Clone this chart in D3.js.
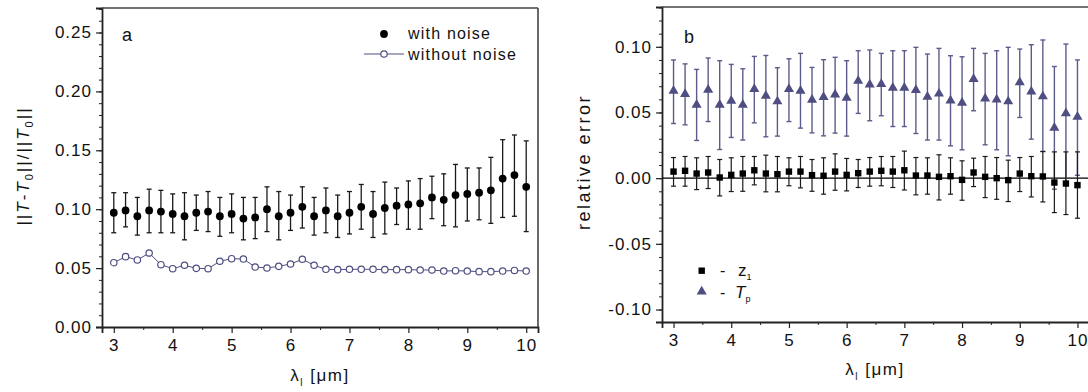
<!DOCTYPE html>
<html>
<head>
<meta charset="utf-8">
<script src="https://cdn.jsdelivr.net/npm/d3@7"></script>
<style>
  body { margin: 0; background: #fff; }
  svg text { font-family: "Liberation Sans", Arial, sans-serif; fill: #111; }
  .tick text { font-size: 17px; letter-spacing: 1px; }
</style>
</head>
<body>
<svg id="chart" width="1088" height="392"></svg>
<script>
/* wavelengths (µm) */
const lambda = [3.0, 3.2, 3.4, 3.6, 3.8, 4.0, 4.2, 4.4, 4.6, 4.8, 5.0, 5.2, 5.4, 5.6, 5.8, 6.0, 6.2, 6.4,
  6.6, 6.8, 7.0, 7.2, 7.4, 7.6, 7.8, 8.0, 8.2, 8.4, 8.6, 8.8, 9.0, 9.2, 9.4, 9.6, 9.8, 10.0];

/* panel a */
const withNoise = [0.097, 0.099, 0.094, 0.099, 0.098, 0.096, 0.094, 0.097, 0.098, 0.094, 0.096, 0.092, 0.093, 0.100, 0.094, 0.097, 0.102, 0.094,
  0.099, 0.094, 0.097, 0.102, 0.096, 0.101, 0.103, 0.104, 0.105, 0.110, 0.108, 0.112, 0.113, 0.114, 0.116, 0.126, 0.129, 0.119];
const withNoiseHi = [0.114, 0.114, 0.110, 0.117, 0.116, 0.113, 0.114, 0.112, 0.115, 0.110, 0.113, 0.110, 0.110, 0.119, 0.115, 0.112, 0.119, 0.110,
  0.118, 0.112, 0.115, 0.121, 0.115, 0.123, 0.118, 0.124, 0.126, 0.128, 0.130, 0.138, 0.135, 0.135, 0.144, 0.159, 0.163, 0.158];
const withNoiseLo = [0.080, 0.085, 0.078, 0.080, 0.080, 0.080, 0.074, 0.082, 0.081, 0.077, 0.080, 0.074, 0.075, 0.081, 0.074, 0.082, 0.084, 0.078,
  0.080, 0.076, 0.079, 0.083, 0.076, 0.079, 0.087, 0.083, 0.083, 0.092, 0.086, 0.085, 0.090, 0.091, 0.088, 0.093, 0.094, 0.081];
const withoutNoise = [0.0546, 0.0597, 0.0569, 0.0628, 0.0529, 0.0495, 0.0524, 0.0498, 0.0495, 0.0558, 0.0580, 0.0577, 0.0509, 0.0501, 0.0515, 0.0535, 0.0575, 0.0524,
  0.0490, 0.0487, 0.0490, 0.0490, 0.0490, 0.0487, 0.0487, 0.0487, 0.0484, 0.0484, 0.0475, 0.0478, 0.0475, 0.0470, 0.0470, 0.0475, 0.0480, 0.0475];

/* panel b */
const tp = [0.0665, 0.0640, 0.0559, 0.0673, 0.0559, 0.0589, 0.0559, 0.0678, 0.0627, 0.0584, 0.0678, 0.0665, 0.0597, 0.0617, 0.0637, 0.0612, 0.0740, 0.0712,
  0.0716, 0.0688, 0.0688, 0.0671, 0.0620, 0.0643, 0.0591, 0.0574, 0.0755, 0.0605, 0.0598, 0.0584, 0.0729, 0.0659, 0.0622, 0.0384, 0.0494, 0.0467];
const tpHi = [0.0900, 0.0870, 0.0828, 0.0915, 0.0894, 0.0866, 0.0833, 0.0927, 0.0934, 0.0841, 0.0909, 0.0950, 0.0843, 0.0902, 0.0920, 0.0894, 0.0970, 0.0976,
  0.0950, 0.0970, 0.0970, 0.0996, 0.0945, 0.0988, 0.0932, 0.0924, 0.0988, 0.0950, 0.0970, 0.0996, 0.0983, 0.1016, 0.1052, 0.0850, 0.1021, 0.0900];
const tpLo = [0.0416, 0.0406, 0.0287, 0.0431, 0.0218, 0.0310, 0.0290, 0.0421, 0.0315, 0.0320, 0.0431, 0.0381, 0.0345, 0.0322, 0.0343, 0.0320, 0.0493, 0.0437,
  0.0475, 0.0393, 0.0393, 0.0340, 0.0290, 0.0290, 0.0246, 0.0216, 0.0513, 0.0254, 0.0216, 0.0170, 0.0462, 0.0297, 0.0203, -0.0084, -0.0030, 0.0022];
const z1 = [0.0050, 0.0056, 0.0035, 0.0043, 0.0005, 0.0025, 0.0035, 0.0060, 0.0035, 0.0030, 0.0050, 0.0050, 0.0023, 0.0018, 0.0050, 0.0025, 0.0038, 0.0050,
  0.0056, 0.0050, 0.0060, 0.0020, 0.0020, 0.0010, 0.0015, -0.0013, 0.0043, 0.0010, 0.0000, -0.0015, 0.0035, 0.0015, 0.0013, -0.0033, -0.0041, -0.0053];
const z1Hi = [0.0157, 0.0165, 0.0155, 0.0165, 0.0142, 0.0155, 0.0165, 0.0165, 0.0175, 0.0165, 0.0155, 0.0165, 0.0142, 0.0155, 0.0185, 0.0150, 0.0142, 0.0157,
  0.0165, 0.0165, 0.0206, 0.0157, 0.0155, 0.0178, 0.0155, 0.0132, 0.0152, 0.0165, 0.0157, 0.0137, 0.0157, 0.0165, 0.0203, 0.0200, 0.0200, 0.0200];
const z1Lo = [-0.0061, -0.0061, -0.0087, -0.0079, -0.0135, -0.0102, -0.0100, -0.0051, -0.0104, -0.0104, -0.0058, -0.0074, -0.0100, -0.0122, -0.0092, -0.0097, -0.0071, -0.0061,
  -0.0058, -0.0071, -0.0090, -0.0127, -0.0122, -0.0166, -0.0122, -0.0168, -0.0064, -0.0148, -0.0161, -0.0178, -0.0102, -0.0143, -0.0181, -0.0262, -0.0277, -0.0305];

/* tick labels */
const xTicks = [3, 4, 5, 6, 7, 8, 9, 10];
const yTicksA = [0.00, 0.05, 0.10, 0.15, 0.20, 0.25];
const yTicksB = [-0.10, -0.05, 0.00, 0.05, 0.10];

const svg = d3.select("#chart");
const purple = "#4e4e82";

/* plain hyphen instead of the unicode minus */
const fmt2 = v => (v < 0 ? "-" : "") + Math.abs(v).toFixed(2);

/* draws frame, ticks and minor ticks for one panel */
function makeAxes(g, x, y, w, h, yTicks, frame) {
  const xMinor = d3.range(3, 10.01, 0.5).filter(v => !xTicks.includes(v));
  const yMinor = d3.range(Math.ceil(y.domain()[0] * 100) / 100, y.domain()[1] + 1e-9, 0.01);

  g.append("g").attr("transform", `translate(0,${h})`)
    .call(d3.axisBottom(x).tickValues(xMinor).tickSize(3).tickFormat(""))
    .call(a => a.select(".domain").remove());
  g.append("g")
    .call(d3.axisLeft(y).tickValues(yMinor).tickSize(3).tickFormat(""))
    .call(a => a.select(".domain").remove());

  const xa = g.append("g").attr("transform", `translate(0,${h})`)
    .call(d3.axisBottom(x).tickValues(xTicks).tickSize(6).tickPadding(6).tickFormat(d3.format("d")));
  const ya = g.append("g")
    .call(d3.axisLeft(y).tickValues(yTicks).tickSize(6).tickPadding(4).tickFormat(fmt2));
  [xa, ya].forEach(a => {
    a.select(".domain").attr("stroke", "#222").attr("stroke-width", 1.8);
    a.selectAll(".tick line").attr("stroke-width", 1.2);
  });
  g.selectAll(".tick line").attr("stroke", "#222");

  g.append("line").attr("x1", 0).attr("x2", w).attr("y1", 0).attr("y2", 0)
    .attr("stroke", "#444").attr("stroke-width", 1.6);
  if (frame) {
    g.append("line").attr("x1", w).attr("x2", w).attr("y1", 0).attr("y2", h)
      .attr("stroke", "#444").attr("stroke-width", 1.6);
  }
}

function errorBars(g, x, y, lo, hi, color, width) {
  const eb = g.append("g").attr("stroke", color).attr("stroke-width", width).attr("fill", "none");
  lambda.forEach((l, i) => {
    eb.append("line").attr("x1", x(l)).attr("x2", x(l)).attr("y1", y(lo[i])).attr("y2", y(hi[i]));
    eb.append("line").attr("x1", x(l) - 2.5).attr("x2", x(l) + 2.5).attr("y1", y(hi[i])).attr("y2", y(hi[i]));
    eb.append("line").attr("x1", x(l) - 2.5).attr("x2", x(l) + 2.5).attr("y1", y(lo[i])).attr("y2", y(lo[i]));
  });
}

function xLabel(g, cx, cy) {
  const t = g.append("text").attr("x", cx).attr("y", cy).attr("text-anchor", "middle")
    .style("font-size", "17px").style("letter-spacing", "1.5px");
  t.append("tspan").text("λ");
  t.append("tspan").attr("dy", 5).style("font-size", "10px").text("l");
  t.append("tspan").attr("dy", -5).text(" [μm]");
}

/* ---------- panel a ---------- */
const mA = { left: 102, top: 8 }, wA = 436, hA = 319;
const gA = svg.append("g").attr("transform", `translate(${mA.left},${mA.top})`);
const xA = d3.scaleLinear().domain([2.8, 10.2]).range([0, wA]);
const yA = d3.scaleLinear().domain([0, 0.2708]).range([hA, 0]);
makeAxes(gA, xA, yA, wA, hA, yTicksA, true);

errorBars(gA, xA, yA, withNoiseLo, withNoiseHi, "#1a1a1a", 1.3);

gA.append("path").datum(lambda)
  .attr("fill", "none").attr("stroke", purple).attr("stroke-width", 1)
  .attr("d", d3.line().x(l => xA(l)).y((l, i) => yA(withoutNoise[i])));
gA.append("g").selectAll("circle").data(lambda).join("circle")
  .attr("cx", l => xA(l)).attr("cy", (l, i) => yA(withoutNoise[i])).attr("r", 3.2)
  .attr("fill", "#fff").attr("stroke", purple).attr("stroke-width", 1.2);
gA.append("g").selectAll("circle").data(lambda).join("circle")
  .attr("cx", l => xA(l)).attr("cy", (l, i) => yA(withNoise[i])).attr("r", 3.9)
  .attr("fill", "#000");

gA.append("text").attr("x", 20).attr("y", 33).style("font-size", "18px").text("a");

/* legend a */
gA.append("circle").attr("cx", 282).attr("cy", 26).attr("r", 3.9).attr("fill", "#000");
gA.append("text").attr("x", 306).attr("y", 31).style("font-size", "16px").style("letter-spacing", "1.2px").text("with noise");
gA.append("line").attr("x1", 262).attr("x2", 302).attr("y1", 46).attr("y2", 46).attr("stroke", purple).attr("stroke-width", 1.2);
gA.append("circle").attr("cx", 282).attr("cy", 46).attr("r", 3.2).attr("fill", "#fff").attr("stroke", purple).attr("stroke-width", 1.2);
gA.append("text").attr("x", 306).attr("y", 52).style("font-size", "16px").style("letter-spacing", "1.2px").text("without noise");

xLabel(svg, 320, 381);

const yLabA = svg.append("text").attr("transform", "translate(29,166) rotate(-90)")
  .attr("text-anchor", "middle").style("font-size", "17px").style("letter-spacing", "2px");
yLabA.append("tspan").text("||");
yLabA.append("tspan").style("font-style", "italic").text("T");
yLabA.append("tspan").text("-");
yLabA.append("tspan").style("font-style", "italic").text("T");
yLabA.append("tspan").attr("dy", 4).style("font-size", "11px").text("0");
yLabA.append("tspan").attr("dy", -4).text("||/||");
yLabA.append("tspan").style("font-style", "italic").text("T");
yLabA.append("tspan").attr("dy", 4).style("font-size", "11px").text("0");
yLabA.append("tspan").attr("dy", -4).text("||");

/* ---------- panel b ---------- */
const mB = { left: 662, top: 7 }, wB = 427, hB = 315;
const gB = svg.append("g").attr("transform", `translate(${mB.left},${mB.top})`);
const xB = d3.scaleLinear().domain([2.8, 10.2]).range([0, wB]);
const yB = d3.scaleLinear().domain([-0.1095, 0.1303]).range([hB, 0]);
makeAxes(gB, xB, yB, wB, hB, yTicksB, false);

gB.append("line").attr("x1", 0).attr("x2", wB).attr("y1", yB(0)).attr("y2", yB(0))
  .attr("stroke", "#000").attr("stroke-width", 1.2);

errorBars(gB, xB, yB, tpLo, tpHi, "#5c5c8c", 1.4);
errorBars(gB, xB, yB, z1Lo, z1Hi, "#1a1a1a", 1.2);

const tri = d3.symbol().type(d3.symbolTriangle).size(44);
gB.append("g").selectAll("path").data(lambda).join("path")
  .attr("transform", (l, i) => `translate(${xB(l)},${yB(tp[i])})`)
  .attr("d", tri).attr("fill", purple);
gB.append("g").selectAll("rect").data(lambda).join("rect")
  .attr("x", l => xB(l) - 3.2).attr("y", (l, i) => yB(z1[i]) - 3.2)
  .attr("width", 6.4).attr("height", 6.4).attr("fill", "#000");

gB.append("text").attr("x", 22).attr("y", 36).style("font-size", "18px").text("b");

/* legend b */
gB.append("rect").attr("x", 36.5).attr("y", 260.5).attr("width", 6.4).attr("height", 6.4).attr("fill", "#000");
gB.append("text").attr("x", 58).attr("y", 269).style("font-size", "16px").text("-");
const lz = gB.append("text").attr("x", 76).attr("y", 269).style("font-size", "17px");
lz.append("tspan").text("z");
lz.append("tspan").attr("dy", 4).style("font-size", "9px").text("1");
gB.append("path").attr("transform", "translate(39.7,284.5)").attr("d", tri).attr("fill", purple);
gB.append("text").attr("x", 58).attr("y", 291).style("font-size", "16px").text("-");
const lt = gB.append("text").attr("x", 73).attr("y", 291).style("font-size", "17px");
lt.append("tspan").style("font-style", "italic").text("T");
lt.append("tspan").attr("dy", 4).style("font-size", "9px").text("p");

xLabel(svg, 875, 375);

svg.append("text").attr("transform", "translate(590,162) rotate(-90)")
  .attr("text-anchor", "middle").style("font-size", "18px").style("letter-spacing", "2.5px")
  .text("relative error");
</script>
</body>
</html>
